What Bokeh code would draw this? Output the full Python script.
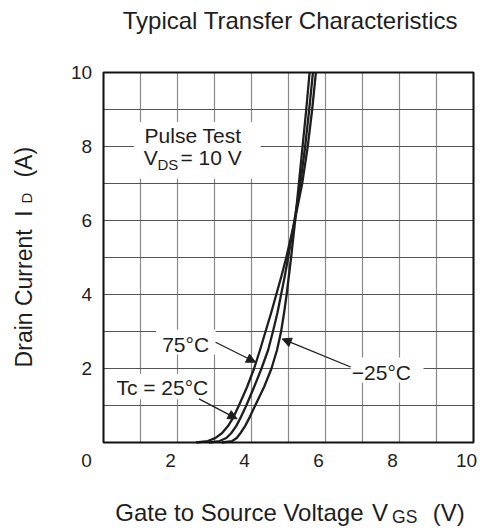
from math import pi
from bokeh.plotting import figure
from bokeh.models import Range1d, Label, BoxAnnotation, Arrow, NormalHead
from bokeh.embed import file_html
from bokeh.resources import INLINE

# ---- data ----
id_levels = [0, 0.04, 0.12, 0.25, 0.45, 0.7, 1.0, 1.5, 2.0, 2.5, 3.0, 3.5, 4.0, 4.5, 5.0, 6.0, 7.0, 8.0, 9.0, 10.0]
vgs_75c = [2.5, 2.82, 3.02, 3.2, 3.37, 3.52, 3.66, 3.88, 4.07, 4.23, 4.38, 4.53, 4.67, 4.81, 4.94, 5.17, 5.37, 5.52, 5.64, 5.74]
vgs_25c = [2.85, 3.14, 3.32, 3.45, 3.59, 3.72, 3.86, 4.07, 4.27, 4.45, 4.58, 4.7, 4.8, 4.9, 4.99, 5.16, 5.32, 5.45, 5.56, 5.66]
vgs_m25c = [3.2, 3.48, 3.6, 3.7, 3.83, 3.96, 4.1, 4.34, 4.54, 4.69, 4.8, 4.88, 4.95, 5.01, 5.07, 5.18, 5.28, 5.38, 5.48, 5.57]
x_ticks = [0, 2, 4, 6, 8, 10]
x_tick_labels = ["0", "2", "4", "6", "8", "10"]
y_ticks = [2, 4, 6, 8, 10]
y_tick_labels = ["2", "4", "6", "8", "10"]
grid_steps = list(range(0, 11))
axis_min, axis_max = 0, 10

FONT = "Liberation Sans"
INK = "#1e1e1e"
PX = 1 / 37          # one screen pixel in data units
BASE_FIX = 8 * PX    # alphabetic-baseline correction observed in rendering

# the frame spans the whole canvas; 37 px per unit, chart origin at (103, 442)
p = figure(width=486, height=528,
           x_range=Range1d(-103 / 37, (486 - 103) / 37),
           y_range=Range1d((442 - 528) / 37, 442 / 37),
           output_backend="svg", toolbar_location=None,
           x_axis_location=None, y_axis_location=None,
           min_border=0, min_border_left=0, min_border_right=0,
           min_border_top=0, min_border_bottom=0)
p.title.visible = False
p.grid.visible = False
p.outline_line_color = None
p.background_fill_color = "white"
p.border_fill_color = "white"

n = len(grid_steps)
# vertical grid lines
p.segment(x0=grid_steps, y0=[axis_min] * n, x1=grid_steps, y1=[axis_max] * n,
          line_color="#8a8a8a", line_width=1.2)
# horizontal grid lines
p.segment(x0=[axis_min] * n, y0=grid_steps, x1=[axis_max] * n, y1=grid_steps,
          line_color="#555555", line_width=1)

for v in (vgs_75c, vgs_25c, vgs_m25c):
    p.line(v, id_levels, line_width=2.3, line_color=INK, line_join="round")

# chart border
p.quad(left=[axis_min], right=[axis_max], bottom=[axis_min], top=[axis_max],
       fill_color=None, line_color="#111111", line_width=2)

# white backgrounds behind annotation texts
for l, r, b, t in [(0.82, 4.25, 7.13, 8.66), (1.42, 3.03, 2.38, 3.05),
                   (0.2, 2.88, 1.17, 1.85), (6.68, 8.65, 1.62, 2.3)]:
    p.add_layout(BoxAnnotation(left=l, right=r, bottom=b, top=t,
                               fill_color="white", fill_alpha=1, line_color=None))


def lab(x, y, text, size, align="left", angle=0, xoff=0, baseline="alphabetic"):
    if baseline == "alphabetic":
        if angle:
            x -= BASE_FIX
        else:
            y += BASE_FIX
    p.add_layout(Label(x=x, y=y, text=text, text_font=FONT, text_font_size=size,
                       text_color=INK, text_align=align, text_baseline=baseline,
                       angle=angle, x_offset=xoff))


# tick labels
for t, s in zip(x_ticks, x_tick_labels):
    lab(t, -0.716, s, "19px", align="center", xoff=(-17 if t == 0 else -7))
for t, s in zip(y_ticks, y_tick_labels):
    lab(-0.31, t, s, "19px", align="right", baseline="middle")

# title
lab(5.05, 11.18, "Typical Transfer Characteristics", "24px", align="center")

# x axis label
lab(0.32, -2.11, "Gate to Source Voltage", "24px")
lab(7.26, -2.11, "V", "24px")
lab(7.8, -2.24, "GS", "17.5px")
lab(8.9, -2.11, "(V)", "24px")

# y axis label (rotated)
lab(-1.93, 2.03, "Drain Current", "23px", angle=pi / 2)
lab(-1.93, 6.1, "I", "23px", angle=pi / 2)
lab(-1.86, 6.46, "D", "15px", angle=pi / 2)
lab(-1.93, 7.16, "(A)", "23px", angle=pi / 2)

# annotations
lab(2.42, 8.08, "Pulse Test", "21px", align="center")
lab(1.09, 7.49, "V", "21px")
lab(1.46, 7.31, "DS", "15px")
lab(2.08, 7.49, "= 10 V", "21px")
lab(2.22, 2.44, "75°C", "21px", align="center")
lab(1.59, 1.27, "Tc = 25°C", "21px", align="center")
lab(7.51, 1.68, "−25°C", "21px", align="center")

for xs, ys, xe, ye in [(3.03, 2.71, 4.11, 2.17), (2.58, 1.18, 3.61, 0.64), (6.68, 2.04, 4.83, 2.80)]:
    p.add_layout(Arrow(x_start=xs, y_start=ys, x_end=xe, y_end=ye, line_color=INK, line_width=1.3,
                       end=NormalHead(size=9, line_color=INK, fill_color=INK, line_width=1)))

open("out.html", "w").write(file_html(p, INLINE))
